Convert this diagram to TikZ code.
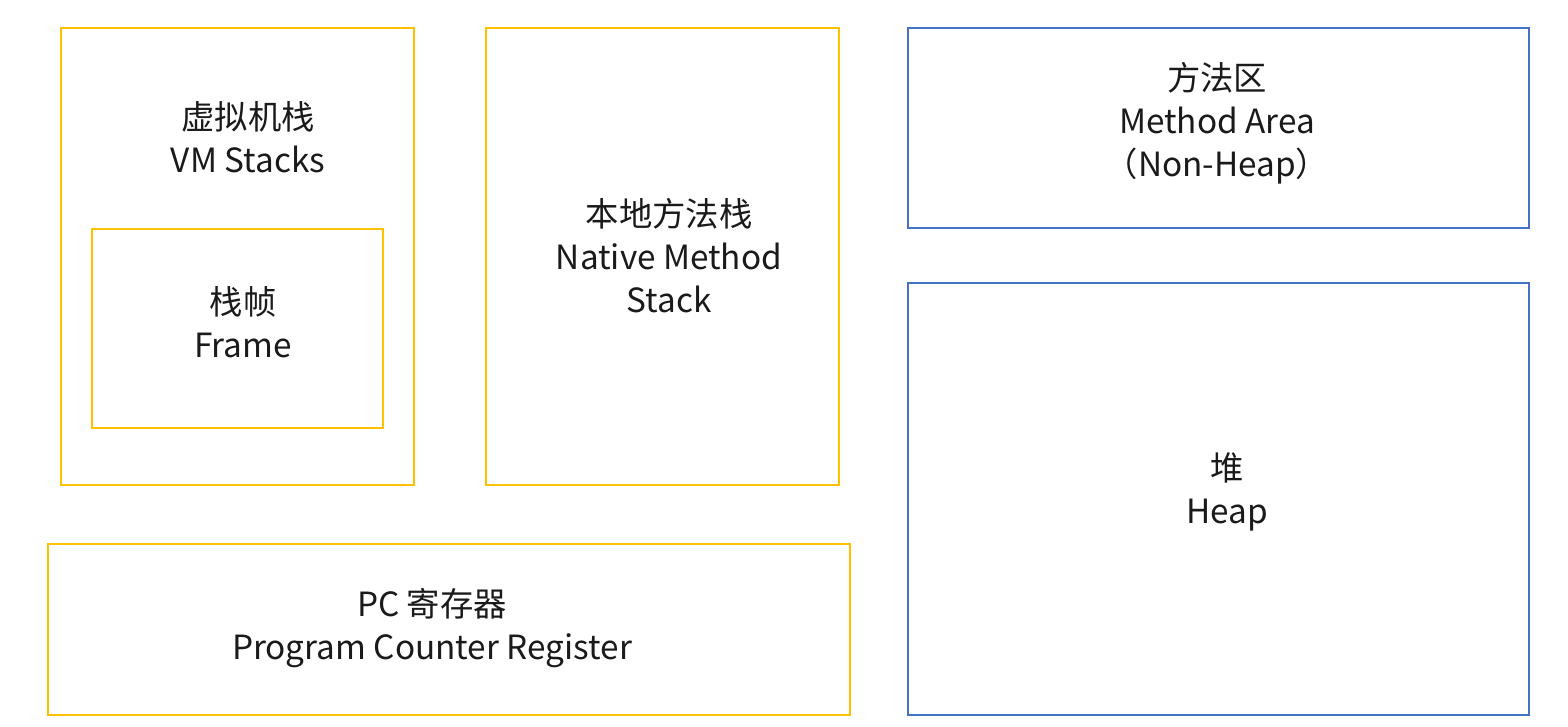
\documentclass[tikz,border=0pt]{standalone}
\usepackage{fontspec}
\setmainfont{Noto Sans CJK SC}
\definecolor{boxyellow}{HTML}{FFC000}
\definecolor{boxblue}{HTML}{4472C4}
\definecolor{txt}{HTML}{1A1A1A}
\begin{document}
\begin{tikzpicture}[x=0.75pt,y=-0.75pt,
  region/.style={draw, line width=1.5pt, inner sep=0pt, anchor=north west},
  yregion/.style={region, draw=boxyellow},
  bregion/.style={region, draw=boxblue},
  lbl/.style={align=center, text=txt, font=\fontsize{25}{32.3}\selectfont, inner sep=0pt}]
\useasboundingbox (0,0) rectangle (1568,726);
% boxes
\node[yregion, minimum width=353*0.75pt, minimum height=457*0.75pt] (vm) at (60,27) {};
\node[yregion, minimum width=291*0.75pt, minimum height=199*0.75pt] (fr) at (91,228) {};
\node[yregion, minimum width=353*0.75pt, minimum height=457*0.75pt] (nm) at (485,27) {};
\node[bregion, minimum width=621*0.75pt, minimum height=200*0.75pt] (ma) at (907,27) {};
\node[bregion, minimum width=621*0.75pt, minimum height=432*0.75pt] (hp) at (907,282) {};
\node[yregion, minimum width=802*0.75pt, minimum height=171*0.75pt] (pc) at (47,543) {};
% labels
\node[lbl] (vmt) at (248,137) {虚拟机栈\\VM Stacks};
\node[lbl] (frt) at (243,322) {栈帧\\Frame};
\node[lbl] (nmt) at (669,256) {本地方法栈\\Native Method\\Stack};
\node[lbl] (mat) at (1217,123) {方法区\\Method Area\\（Non-Heap）};
\node[lbl] (hpt) at (1227,492) {堆\\Heap};
\node[lbl] (pct) at (432,628) {PC 寄存器\\Program Counter Register};
\end{tikzpicture}
\end{document}
